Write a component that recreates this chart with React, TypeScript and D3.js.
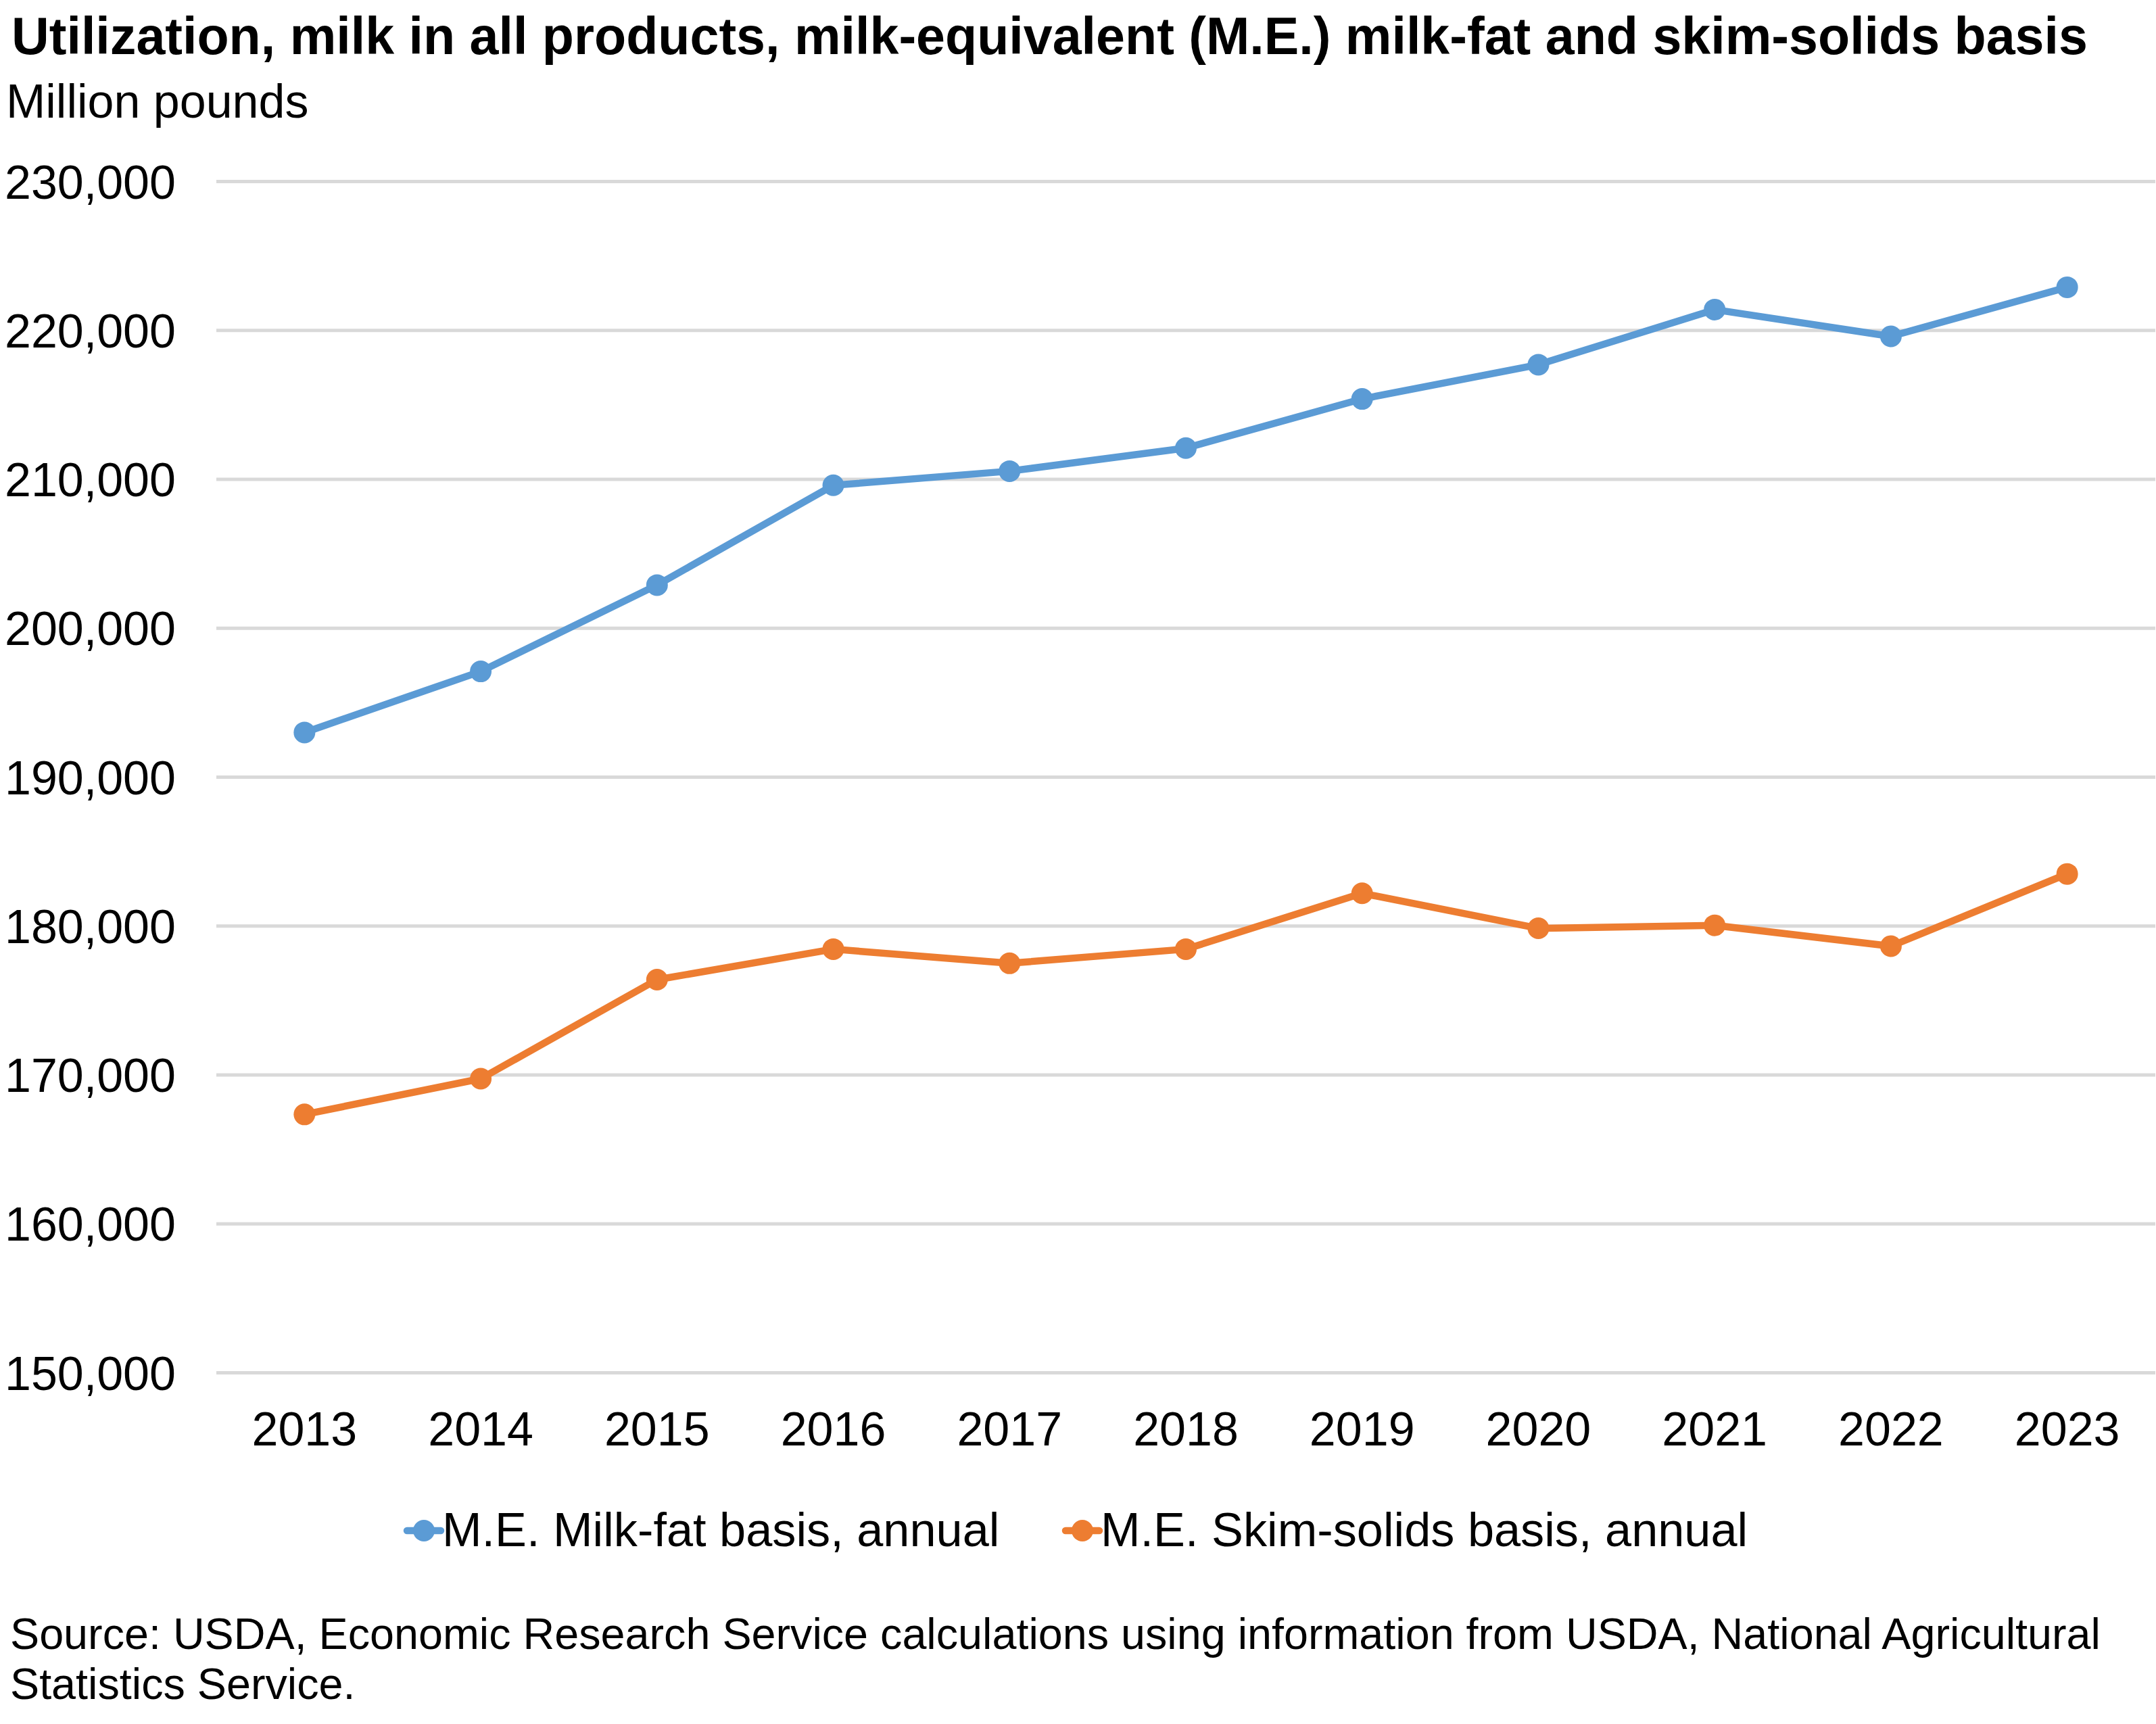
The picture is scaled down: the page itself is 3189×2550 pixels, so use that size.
import { useEffect, useRef } from "react";
import * as d3 from "d3";

// Milk utilization, M.E. basis, million pounds
const years = ["2013", "2014", "2015", "2016", "2017", "2018", "2019", "2020", "2021", "2022", "2023"];
const milkFat = [193000, 197100, 202900, 209600, 210550, 212100, 215400, 217700, 221400, 219600, 222900];
const skimSolids = [167350, 169750, 176400, 178450, 177500, 178450, 182200, 179850, 180050, 178650, 183500];
const yTicks = [150000, 160000, 170000, 180000, 190000, 200000, 210000, 220000, 230000];
const seriesNames = ["M.E. Milk-fat basis, annual", "M.E. Skim-solids basis, annual"];
const colors = ["#5B9BD5", "#ED7D31"];

const W = 3189;
const H = 2550;
const FONT = "'Liberation Sans', Arial, sans-serif";

export default function App() {
    const svgRef = useRef<SVGSVGElement>(null);

    useEffect(() => {
        if (!svgRef.current) return;
        const svg = d3.select(svgRef.current);
        svg.selectAll("*").remove();

        const x = d3.scalePoint<string>().domain(years).range([320, 3188]).padding(0.5);
        const y = d3.scaleLinear().domain([150000, 230000]).range([2030.5, 268.5]);

        svg.append("rect").attr("width", W).attr("height", H).attr("fill", "#fff");

        // title + unit
        svg.append("text").attr("x", 17).attr("y", 80)
            .attr("font-family", FONT).attr("font-size", 77.2).attr("font-weight", 700)
            .text("Utilization, milk in all products, milk-equivalent (M.E.) milk-fat and skim-solids basis");
        svg.append("text").attr("x", 9).attr("y", 174)
            .attr("font-family", FONT).attr("font-size", 70)
            .text("Million pounds");

        // gridlines
        svg.append("g").selectAll("line").data(yTicks).join("line")
            .attr("x1", 320).attr("x2", 3188)
            .attr("y1", d => y(d)).attr("y2", d => y(d))
            .attr("stroke", "#d9d9d9").attr("stroke-width", 5);

        // y labels
        svg.append("g").selectAll("text").data(yTicks).join("text")
            .attr("x", 260).attr("y", d => y(d) + 25)
            .attr("text-anchor", "end")
            .attr("font-family", FONT).attr("font-size", 70)
            .text(d => d3.format(",")(d));

        // x labels
        svg.append("g").selectAll("text").data(years).join("text")
            .attr("x", d => x(d)!).attr("y", 2137.5)
            .attr("text-anchor", "middle")
            .attr("font-family", FONT).attr("font-size", 70)
            .text(d => d);

        const line = d3.line<number>()
            .x((_, i) => x(years[i])!)
            .y(d => y(d));

        [milkFat, skimSolids].forEach((vals, s) => {
            svg.append("path").datum(vals).attr("d", line)
                .attr("fill", "none").attr("stroke", colors[s])
                .attr("stroke-width", 10.5).attr("stroke-linejoin", "round").attr("stroke-linecap", "round");
            svg.append("g").selectAll("circle").data(vals).join("circle")
                .attr("cx", (_, i) => x(years[i])!).attr("cy", d => y(d))
                .attr("r", 16).attr("fill", colors[s]);
        });

        // legend
        const legendX = [627, 1601];
        seriesNames.forEach((name, s) => {
            const cx = legendX[s];
            svg.append("line").attr("x1", cx - 25).attr("x2", cx + 25)
                .attr("y1", 2264).attr("y2", 2264)
                .attr("stroke", colors[s]).attr("stroke-width", 10.5).attr("stroke-linecap", "round");
            svg.append("circle").attr("cx", cx).attr("cy", 2264).attr("r", 16).attr("fill", colors[s]);
            svg.append("text").attr("x", cx + 27).attr("y", 2287)
                .attr("font-family", FONT).attr("font-size", 70.3)
                .text(name);
        });

        // source note
        const src = svg.append("text").attr("font-family", FONT).attr("font-size", 64.7);
        src.append("tspan").attr("x", 15).attr("y", 2439)
            .text("Source: USDA, Economic Research Service calculations using information from USDA, National Agricultural");
        src.append("tspan").attr("x", 15).attr("y", 2513).text("Statistics Service.");
    }, []);

    return (
        <svg ref={svgRef} width={W} height={H} viewBox={`0 0 ${W} ${H}`}
            style={{ position: "absolute", left: 0, top: 0, display: "block" }} />
    );
}
